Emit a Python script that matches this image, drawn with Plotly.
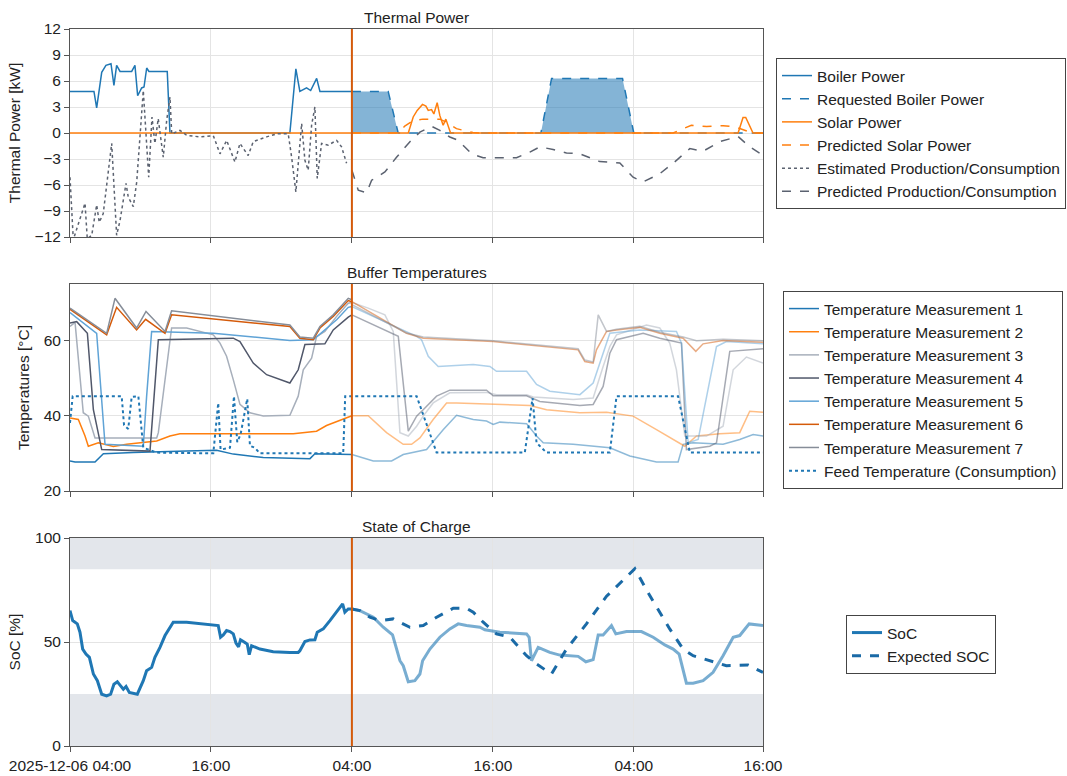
import pandas as pd
import plotly.graph_objects as go
from plotly.subplots import make_subplots

START = pd.Timestamp("2025-12-06 04:00")
NOW_H = 24.0
END_H = 59.0

# ---------------- Thermal power (kW) ----------------
boiler_h = [0, 2.04, 2.27, 2.70, 3.06, 3.49, 3.74, 3.97, 4.26, 5.25, 5.53, 5.76, 6.10, 6.30, 6.53, 6.72, 8.28, 8.51,
            18.72, 19.23, 19.57, 20.14, 20.49, 21.0, 21.28, 24.0]
boiler_v = [4.8, 4.8, 2.9, 7.0, 7.8, 8.0, 5.5, 7.8, 7.1, 7.1, 7.8, 4.3, 5.2, 5.3, 7.5, 7.1, 7.1, 0,
            0, 7.4, 4.8, 5.2, 4.9, 6.3, 4.8, 4.8]

req_h = [24.0, 27.09, 27.94, 40.09, 41.0, 47.04, 48.0, 59.0]
req_v = [4.8, 4.8, 0, 0, 6.3, 6.3, 0, 0]

solar_h = [0, 28.8, 29.22, 29.56, 30.01, 30.3, 30.5, 30.78, 30.98, 31.26, 31.49, 31.77, 32.0, 32.4,
           56.88, 57.3, 57.53, 58.15, 59.0]
solar_v = [0, 0, 1.85, 2.6, 3.3, 3.1, 2.6, 2.7, 2.2, 3.5, 2.0, 0.9, 1.6, 0,
           0, 1.8, 1.8, 0, 0]

psolar_h = [24.0, 27.94, 28.5, 29.2, 30.04, 31.5, 32.1, 32.9, 34.3, 35.0, 51.35, 52.9, 54.2, 55.6, 56.6, 57.6, 58.15, 59.0]
psolar_v = [0, 0, 0.8, 1.4, 1.6, 1.6, 1.2, 0.5, 0.05, 0, 0, 0.9, 0.75, 0.85, 0.7, 0.2, 0, 0]

est_h = [0, 0.28, 1.28, 1.47, 1.85, 2.27, 2.49, 2.83, 3.55, 3.97, 4.26, 4.77, 4.96, 5.39, 5.68, 6.10, 6.24, 6.70,
         6.98, 7.23, 7.51, 7.94, 8.23, 8.51, 8.66, 9.36, 9.93, 11.06, 12.2, 12.77, 13.34, 14.04, 14.47, 15.17,
         15.6, 16.74, 17.59, 18.58, 18.87, 19.23, 19.72, 20.0, 20.28, 20.57, 20.85, 21.05, 21.42, 21.98, 22.7,
         23.12, 23.55]
est_v = [-5.1, -12.3, -8.1, -12.2, -11.8, -8.3, -10.3, -9.3, -1.2, -11.8, -10.1, -5.8, -7.4, -8.5, -5.65, 2.2, 4.9, -5.1,
         1.85, -1.2, 1.65, -2.8, 1.45, 4.15, -0.1, 0.3, -0.27, -0.45, -0.3, -2.4, -0.85, -3.35, -1.2, -2.6,
         -1.0, -0.45, -0.1, -0.1, -2.8, -6.8, 1.1, -3.15, -4.3, 0.9, 3.0, -5.25, -1.2, -1.4, -0.85,
         -1.6, -3.5]

pred_h = [24.0, 24.54, 25.25, 25.68, 26.1, 26.81, 27.8, 28.94, 29.79, 30.78, 31.49, 32.34, 33.05, 34.19, 35.17,
          38.02, 39.15, 40.0, 41.13, 42.27, 43.4, 45.11, 46.81, 47.94, 48.79, 50.21, 51.34, 52.77, 53.9, 55.32,
          56.88, 57.87, 58.87]
pred_v = [-4.3, -6.6, -6.9, -5.45, -5.1, -4.5, -2.8, -1.0, 0.1, 0.77, 0.3, -0.46, -0.85, -2.4, -2.85,
          -2.85, -2.2, -1.6, -1.9, -2.3, -2.4, -3.3, -3.45, -5.1, -5.65, -4.7, -3.5, -1.8, -2.1, -1.0,
          -0.4, -1.6, -2.45]

# ---------------- Buffer temperatures (°C) ----------------
t1_h = [0, 0.43, 2.13, 2.84, 5.39, 7.38, 9.93, 12.48, 13.90, 16.45, 20.43, 20.85, 24.0]
t1_v = [28.0, 27.7, 27.7, 29.9, 30.2, 30.3, 30.6, 30.8, 29.8, 28.9, 28.6, 29.9, 29.7]
t1f_h = [24.0, 25.82, 27.38, 28.37, 30.36, 31.77, 32.91, 34.33, 35.46, 36.03, 36.6, 38.87, 39.72, 40.29, 42.84,
         45.96, 47.66, 49.93, 51.77, 52.2, 53.05, 55.60, 57.02, 58.16, 59.0]
t1f_v = [29.7, 28.0, 28.0, 29.7, 31.0, 36.3, 40.1, 39.0, 38.6, 37.7, 38.3, 37.9, 34.6, 32.8, 32.4,
         31.5, 29.3, 27.7, 27.7, 32.4, 32.8, 32.4, 33.7, 35.0, 34.6]

t2_h = [0, 0.71, 1.28, 1.56, 2.41, 3.69, 4.82, 6.24, 7.38, 8.51, 9.36, 16.74, 19.01, 20.99, 21.84, 24.0]
t2_v = [39.4, 39.0, 34.6, 31.9, 32.8, 31.8, 32.4, 32.8, 33.3, 34.6, 35.2, 35.2, 35.2, 35.9, 37.4, 40.0]
t2f_h = [24.0, 25.39, 26.95, 28.37, 29.08, 29.79, 30.92, 32.06, 32.91, 36.03, 39.15, 40.57, 43.41, 45.68, 47.94,
         49.93, 51.63, 52.34, 53.34, 55.32, 57.02, 57.87, 59.0]
t2f_v = [40.0, 40.0, 35.5, 32.4, 32.4, 34.1, 39.0, 43.4, 43.4, 43.0, 42.7, 41.6, 40.8, 40.9, 39.9,
         36.3, 33.3, 31.9, 34.6, 35.2, 35.5, 41.2, 40.9]

t3_h = [0, 0.43, 1.13, 1.56, 2.13, 7.38, 7.52, 8.65, 9.93, 12.20, 12.77, 13.33, 13.90, 14.47, 15.32, 16.45,
        18.72, 19.43, 19.86, 20.57, 20.99, 21.70, 22.70, 23.69, 24.0]
t3_v = [63.7, 64.8, 40.8, 39.9, 34.1, 34.1, 35.5, 63.3, 63.3, 61.5, 59.3, 55.8, 49.6, 43.0, 40.8, 39.9,
        40.1, 45.2, 52.2, 55.3, 61.0, 62.4, 66.4, 69.9, 70.1]
t3f_h = [24.0, 25.39, 26.81, 27.52, 28.09, 28.8, 29.51, 30.07, 30.92, 32.34, 35.46, 36.31, 38.87, 39.43, 42.84,
         44.54, 45.39, 45.96, 46.53, 49.08, 50.21, 51.06, 51.63, 52.34, 54.19, 55.60, 56.46, 57.59, 59.0]
t3f_v = [70.1, 68.6, 66.8, 62.4, 35.5, 34.6, 37.2, 39.9, 43.4, 46.1, 46.2, 45.6, 45.6, 45.0, 44.3,
         44.7, 53.1, 58.4, 61.5, 64.1, 63.3, 59.3, 52.2, 34.6, 34.6, 37.2, 52.2, 55.6, 54.0]

t4_h = [0, 0.57, 1.48, 1.99, 2.70, 6.81, 7.52, 13.90, 14.47, 15.60, 16.74, 18.72, 19.43, 20.0, 21.70, 22.41, 23.69, 24.0]
t4_v = [64.6, 65.0, 61.9, 41.6, 31.0, 30.6, 60.2, 60.6, 59.7, 54.0, 50.9, 48.7, 52.2, 58.9, 59.1, 62.8, 66.2, 66.8]
t4f_h = [24.0, 27.95, 28.8, 29.51, 30.07, 31.21, 32.34, 35.46, 36.03, 38.87, 40.0, 43.41, 44.54, 45.39, 45.96,
         46.53, 48.8, 50.21, 52.06, 52.48, 54.47, 55.04, 56.17, 59.0]
t4f_v = [66.8, 61.1, 35.9, 39.9, 41.6, 45.2, 46.8, 46.8, 45.3, 45.3, 43.8, 42.7, 43.0, 47.8, 56.6,
         60.2, 61.9, 60.6, 59.3, 31.0, 31.9, 32.8, 57.1, 57.8]

t5_h = [0, 2.13, 2.27, 2.98, 6.24, 6.52, 6.95, 12.20, 18.72, 20.71, 21.70, 22.70, 23.69, 24.0]
t5_v = [67.4, 62.4, 61.9, 32.4, 31.9, 45.0, 62.4, 61.9, 60.0, 60.2, 62.8, 65.5, 68.8, 69.0]
t5f_h = [24.0, 29.51, 29.93, 30.50, 31.35, 34.33, 35.75, 36.31, 38.87, 39.72, 40.85, 43.41, 44.54, 45.39, 45.96,
         48.51, 51.63, 52.06, 52.34, 52.63, 53.48, 55.04, 55.89, 59.0]
t5f_v = [69.0, 61.1, 60.2, 55.8, 53.1, 53.6, 53.1, 51.8, 51.8, 48.3, 46.5, 45.6, 48.7, 56.6, 61.9,
         62.8, 62.4, 59.3, 45.0, 32.8, 33.7, 58.4, 59.7, 59.1]

t6_h = [0, 3.12, 3.97, 5.67, 6.44, 8.09, 8.65, 18.72, 19.57, 20.71, 21.28, 22.41, 23.69, 24.0]
t6_v = [68.3, 61.5, 68.8, 62.8, 65.6, 61.9, 66.8, 63.7, 60.6, 60.2, 63.3, 66.4, 70.6, 70.3]
t6f_h = [24.0, 28.65, 30.07, 36.03, 43.26, 43.83, 44.54, 44.82, 45.68, 46.53, 48.51, 50.21, 52.2, 53.28, 53.9, 55.6, 59.0]
t6f_v = [70.3, 61.9, 60.6, 59.7, 57.5, 54.4, 54.0, 57.5, 62.4, 62.8, 63.5, 61.9, 60.6, 57.1, 59.1, 60.0, 59.5]

t7_h = [0, 3.12, 3.83, 5.67, 6.47, 8.09, 8.65, 18.72, 19.57, 20.71, 21.28, 22.41, 23.69, 24.0]
t7_v = [68.6, 61.9, 71.2, 63.3, 67.7, 62.4, 67.9, 64.1, 60.9, 60.6, 63.7, 66.8, 71.2, 70.8]
t7f_h = [24.0, 28.65, 30.07, 36.03, 43.26, 43.83, 44.54, 44.97, 45.68, 46.53, 48.51, 50.21, 52.2, 53.34, 55.6, 59.0]
t7f_v = [69.5, 62.0, 60.9, 59.9, 57.8, 54.8, 54.3, 66.8, 62.4, 63.0, 63.8, 62.2, 60.9, 59.9, 60.3, 59.9]

feed_h = [0, 0.23, 4.40, 4.6, 4.96, 5.25, 5.82, 6.24, 7.38, 12.2, 12.62, 12.82, 13.62, 13.96, 14.24, 14.52, 15.09,
          15.32, 15.74, 16.17, 23.26, 23.43, 29.51, 31.21, 38.72, 39.38, 39.72, 40.57, 45.96, 46.53, 51.77,
          52.77, 59.0]
feed_v = [38.1, 45.2, 45.2, 37.5, 36.5, 45.0, 45.2, 31.5, 30.2, 30.0, 43.4, 31.0, 31.5, 45.2, 33.0, 35.0, 44.5,
          32.0, 31.5, 30.0, 30.0, 45.2, 45.2, 30.2, 30.2, 44.7, 32.8, 30.2, 30.2, 45.2, 45.2,
          30.2, 30.2]

# ---------------- State of charge (%) ----------------
soc_h = [0, 0.23, 0.62, 0.85, 1.08, 1.36, 1.65, 1.99, 2.33, 2.70, 3.12, 3.46, 3.74, 4.03, 4.31, 4.54, 4.77, 5.05,
         5.73, 6.24, 6.52, 6.95, 7.23, 7.66, 8.09, 8.79, 9.93, 11.06, 12.62, 12.82, 13.05, 13.33, 13.62, 13.90,
         14.13, 14.35, 14.52, 14.89, 15.09, 15.26, 15.46, 16.17, 17.30, 18.72, 19.43, 19.57, 20.0, 20.43, 20.85,
         21.05, 21.56, 22.13, 22.70, 23.21, 23.40, 23.69, 24.0]
soc_v = [65.1, 60.3, 58.7, 54.7, 46.6, 44.2, 42.6, 34.6, 31.4, 24.9, 24.1, 24.9, 29.7, 30.9, 28.9, 27.3, 28.6, 25.7,
         24.9, 31.4, 36.2, 37.8, 42.6, 47.4, 53.1, 59.5, 59.5, 58.7, 57.9, 52.3, 53.4, 55.5, 55.0, 53.9,
         49.5, 47.7, 51.1, 49.8, 49.0, 43.9, 48.2, 46.6, 45.3, 45.0, 45.0, 45.8, 50.2, 51.0, 51.1,
         54.7, 56.3, 60.3, 64.3, 68.3, 64.3, 65.9, 65.9]
socf_h = [24.0, 24.68, 25.82, 26.67, 27.46, 28.09, 28.37, 28.80, 29.36, 29.79, 30.02, 30.64, 31.49, 32.34, 33.05,
          33.76, 34.9, 35.32, 36.6, 37.87, 38.87, 39.09, 39.29, 39.86, 40.85, 41.7, 43.26, 43.92, 44.54, 44.97,
          45.39, 46.10, 46.47, 47.38, 48.65, 49.65, 50.64, 51.35, 51.86, 52.48, 53.05, 53.90, 54.75, 55.60,
          56.46, 57.02, 57.82, 59.0]
socf_v = [65.9, 65.1, 61.9, 57.1, 53.4, 41.0, 38.6, 30.9, 31.4, 34.6, 41.0, 46.6, 52.3, 56.3, 58.7,
          57.9, 57.1, 55.9, 54.7, 54.3, 53.9, 52.3, 41.0, 47.4, 45.0, 43.7, 43.1, 40.5, 41.5, 53.4,
          53.4, 57.9, 53.9, 55.0, 55.0, 52.3, 48.6, 46.6, 44.2, 30.2, 30.2, 31.4, 35.4, 43.4,
          52.3, 53.1, 58.7, 57.9]
exp_h = [24.0, 24.68, 25.53, 26.38, 27.52, 28.94, 30.07, 31.21, 32.63, 33.76, 34.33, 35.18, 36.31, 37.45, 38.87,
         39.72, 40.99, 42.27, 43.97, 45.68, 48.09, 49.36, 51.06, 52.2, 53.05, 54.47, 55.89, 57.73, 59.0]
exp_v = [65.9, 65.1, 61.9, 60.3, 61.1, 57.1, 57.9, 61.9, 66.2, 66.2, 64.3, 59.5, 53.9, 52.3, 43.4,
         39.4, 34.6, 46.6, 58.7, 72.0, 85.2, 72.3, 56.3, 46.6, 43.4, 41.0, 38.6, 38.9, 35.4]

tick_h = [0, 12, 24, 36, 48, 59.0]
tick_text = ["2025-12-06 04:00", "16:00", "04:00", "16:00", "04:00", "16:00"]


def T(hours):
    return [START + pd.Timedelta(hours=h) for h in hours]


BLUE = "#1f77b4"
ORANGE = "#ff7f0e"
GREY = "#5b6270"
NOWC = "#d45a0a"
FONT = "Liberation Sans, Arial, sans-serif"
FS = 15.5

fig = make_subplots(rows=3, cols=1, shared_xaxes=True)

# Panel 1
fig.add_trace(go.Scatter(x=T(boiler_h), y=boiler_v, mode="lines", name="Boiler Power",
                         line=dict(color=BLUE, width=1.5), legend="legend"), row=1, col=1)
fig.add_trace(go.Scatter(x=T(req_h), y=req_v, mode="none", name="Requested Boiler Power (fill)",
                         fill="tozeroy", fillcolor="rgba(31,119,180,0.55)", showlegend=False,
                         legend="legend", hoverinfo="skip"), row=1, col=1)
fig.add_trace(go.Scatter(x=T(req_h), y=req_v, mode="lines", name="Requested Boiler Power",
                         line=dict(color=BLUE, width=1.5, dash="dash"), legend="legend"), row=1, col=1)
fig.add_trace(go.Scatter(x=T(solar_h), y=solar_v, mode="lines", name="Solar Power",
                         line=dict(color=ORANGE, width=1.5), legend="legend"), row=1, col=1)
fig.add_trace(go.Scatter(x=T(psolar_h), y=psolar_v, mode="lines", name="Predicted Solar Power",
                         line=dict(color=ORANGE, width=1.5, dash="dash"), legend="legend"), row=1, col=1)
fig.add_trace(go.Scatter(x=T(est_h), y=est_v, mode="lines", name="Estimated Production/Consumption",
                         line=dict(color=GREY, width=1.5, dash="dot"), legend="legend"), row=1, col=1)
fig.add_trace(go.Scatter(x=T(pred_h), y=pred_v, mode="lines", name="Predicted Production/Consumption",
                         line=dict(color=GREY, width=1.5, dash="dash"), legend="legend"), row=1, col=1)

# Panel 2
temps = [
    ("Temperature Measurement 1", "#1f77b4", t1_h, t1_v, t1f_h, t1f_v),
    ("Temperature Measurement 2", "#ff7f0e", t2_h, t2_v, t2f_h, t2f_v),
    ("Temperature Measurement 3", "#a7afbb", t3_h, t3_v, t3f_h, t3f_v),
    ("Temperature Measurement 4", "#50576a", t4_h, t4_v, t4f_h, t4f_v),
    ("Temperature Measurement 5", "#5fa3d6", t5_h, t5_v, t5f_h, t5f_v),
    ("Temperature Measurement 6", "#d45a0a", t6_h, t6_v, t6f_h, t6f_v),
    ("Temperature Measurement 7", "#868d98", t7_h, t7_v, t7f_h, t7f_v),
]
for name, col, h, v, hf, vf in temps:
    fig.add_trace(go.Scatter(x=T(hf), y=vf, mode="lines", name=name, showlegend=False, opacity=0.5,
                             line=dict(color=col, width=1.5), legend="legend2"), row=2, col=1)
for name, col, h, v, hf, vf in temps:
    fig.add_trace(go.Scatter(x=T(h), y=v, mode="lines", name=name,
                             line=dict(color=col, width=1.5), legend="legend2"), row=2, col=1)
fig.add_trace(go.Scatter(x=T(feed_h), y=feed_v, mode="lines", name="Feed Temperature (Consumption)",
                         line=dict(color=BLUE, width=2, dash="dot"), legend="legend2"), row=2, col=1)

# Panel 3
fig.add_trace(go.Scatter(x=T(socf_h), y=socf_v, mode="lines", name="SoC", showlegend=False, opacity=0.6,
                         line=dict(color=BLUE, width=3), legend="legend3"), row=3, col=1)
fig.add_trace(go.Scatter(x=T(soc_h), y=soc_v, mode="lines", name="SoC",
                         line=dict(color=BLUE, width=3), legend="legend3"), row=3, col=1)
fig.add_trace(go.Scatter(x=T(exp_h), y=exp_v, mode="lines", name="Expected SOC",
                         line=dict(color="#1a6aa6", width=3, dash="dash"), legend="legend3"), row=3, col=1)

# Shapes: SoC bands and now line
for y0, y1 in [(0, 25), (85, 100)]:
    fig.add_shape(type="rect", xref="x3 domain", yref="y3", x0=0, x1=1, y0=y0, y1=y1,
                  fillcolor="#e3e6eb", line=dict(width=0), layer="below")
now_t = START + pd.Timedelta(hours=NOW_H)
for xr_, yr_ in [("x", "y domain"), ("x2", "y2 domain"), ("x3", "y3 domain")]:
    fig.add_shape(type="line", xref=xr_, yref=yr_, x0=now_t, x1=now_t, y0=0, y1=1,
                  line=dict(color=NOWC, width=2), layer="above")

W, H = 1067, 776
L, R, TOP, B = 70, 304, 29, 30
ph = H - TOP - B


def dom(top_px, bot_px):
    return [(H - B - bot_px) / ph, (H - B - top_px) / ph]


axis_common = dict(showline=True, linecolor="#555555", linewidth=1, mirror=True,
                   showgrid=True, gridcolor="#e4e4e4", zeroline=False, automargin=False,
                   ticks="outside", ticklen=5, tickcolor="#555555",
                   tickfont=dict(size=FS, color="#222"))

xr = [START, START + pd.Timedelta(hours=END_H)]
for i in (1, 2, 3):
    key = "xaxis" if i == 1 else f"xaxis{i}"
    fig.layout[key].update(range=xr, tickvals=T(tick_h), ticktext=tick_text,
                           showticklabels=(i == 3), **axis_common)

fig.update_layout(
    yaxis=dict(domain=dom(29, 237), range=[-12, 12], dtick=3, tick0=0,
               title=dict(text="Thermal Power [kW]", font=dict(size=FS), standoff=10), **axis_common),
    yaxis2=dict(domain=dom(284, 491), range=[20, 75], tickvals=[20, 40, 60],
                title=dict(text="Temperatures [°C]", font=dict(size=FS), standoff=10), **axis_common),
    yaxis3=dict(domain=dom(538, 746), range=[0, 100], tickvals=[0, 50, 100],
                title=dict(text="SoC [%]", font=dict(size=FS), standoff=10), **axis_common),
)

leg_common = dict(bordercolor="#444", borderwidth=1, bgcolor="white", font=dict(size=FS, color="#222"),
                  xanchor="left", yanchor="top", itemwidth=30, tracegroupgap=0)


def lx(px):
    return (px - L) / (W - L - R)


def ly(py):
    return (H - B - py) / ph


fig.update_layout(
    legend=dict(x=lx(776), y=ly(58), **leg_common),
    legend2=dict(x=lx(783), y=ly(291), **leg_common),
    legend3=dict(x=lx(846), y=ly(615), **leg_common),
)

for text, top_px in [("Thermal Power", 29), ("Buffer Temperatures", 284), ("State of Charge", 538)]:
    fig.add_annotation(text=text, x=0.5, xref="paper", y=ly(top_px), yref="paper",
                       yanchor="bottom", showarrow=False, yshift=1, font=dict(size=FS, color="#222"))

fig.update_layout(width=W, height=H, margin=dict(l=L, r=R, t=TOP, b=B, autoexpand=False),
                  paper_bgcolor="white", plot_bgcolor="white",
                  font=dict(family=FONT, size=FS, color="#222"), showlegend=True)

fig.write_html("out.html", config={"displayModeBar": False},
               post_script="document.body.style.margin='0px';document.body.style.overflow='hidden';")
